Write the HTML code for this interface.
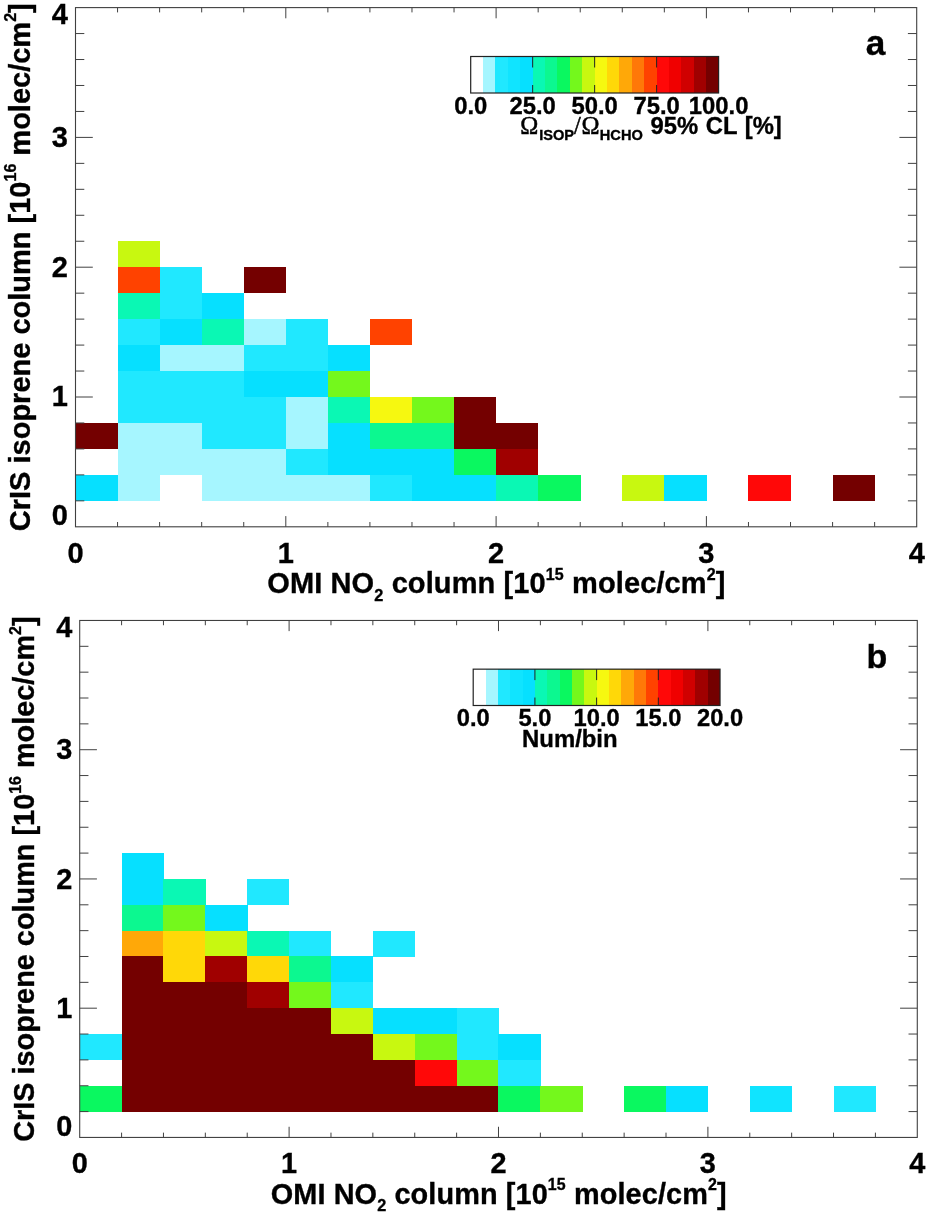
<!DOCTYPE html>
<html lang="en">
<head>
<meta charset="utf-8">
<title>CrIS isoprene column vs OMI NO2 column</title>
<style>
html,body{margin:0;padding:0;background:#fff;}
body{width:936px;height:1213px;overflow:hidden;}
svg{display:block;}
.t{font-family:"Liberation Sans",sans-serif;font-weight:bold;fill:#000;stroke:#000;stroke-width:0.35px;}
.sym{font-family:"Liberation Serif",serif;font-weight:normal;stroke-width:0.5px;}
</style>
</head>
<body>
<svg width="936" height="1213" viewBox="0 0 936 1213">
<rect width="936" height="1213" fill="#fff"/>
<g>
<g shape-rendering="crispEdges">
<rect x="117.56" y="241.24" width="42.36" height="26.26" fill="#c8f810"/>
<rect x="117.56" y="267.2" width="42.36" height="26.26" fill="#ff4200"/>
<rect x="159.62" y="267.2" width="42.36" height="26.26" fill="#20e8ff"/>
<rect x="243.74" y="267.2" width="42.36" height="26.26" fill="#740000"/>
<rect x="117.56" y="293.16" width="42.36" height="26.26" fill="#0af8b4"/>
<rect x="159.62" y="293.16" width="42.36" height="26.26" fill="#20e8ff"/>
<rect x="201.68" y="293.16" width="42.36" height="26.26" fill="#06e0ff"/>
<rect x="117.56" y="319.12" width="42.36" height="26.26" fill="#20e8ff"/>
<rect x="159.62" y="319.12" width="42.36" height="26.26" fill="#06e0ff"/>
<rect x="201.68" y="319.12" width="42.36" height="26.26" fill="#0af8b4"/>
<rect x="243.74" y="319.12" width="42.36" height="26.26" fill="#a6f6ff"/>
<rect x="285.8" y="319.12" width="42.36" height="26.26" fill="#20e8ff"/>
<rect x="369.92" y="319.12" width="42.36" height="26.26" fill="#ff4200"/>
<rect x="117.56" y="345.08" width="42.36" height="26.26" fill="#06e0ff"/>
<rect x="159.62" y="345.08" width="42.36" height="26.26" fill="#a6f6ff"/>
<rect x="201.68" y="345.08" width="42.36" height="26.26" fill="#a6f6ff"/>
<rect x="243.74" y="345.08" width="42.36" height="26.26" fill="#20e8ff"/>
<rect x="285.8" y="345.08" width="42.36" height="26.26" fill="#20e8ff"/>
<rect x="327.86" y="345.08" width="42.36" height="26.26" fill="#06e0ff"/>
<rect x="117.56" y="371.04" width="42.36" height="26.26" fill="#20e8ff"/>
<rect x="159.62" y="371.04" width="42.36" height="26.26" fill="#20e8ff"/>
<rect x="201.68" y="371.04" width="42.36" height="26.26" fill="#20e8ff"/>
<rect x="243.74" y="371.04" width="42.36" height="26.26" fill="#06e0ff"/>
<rect x="285.8" y="371.04" width="42.36" height="26.26" fill="#06e0ff"/>
<rect x="327.86" y="371.04" width="42.36" height="26.26" fill="#74f81c"/>
<rect x="117.56" y="397" width="42.36" height="26.26" fill="#20e8ff"/>
<rect x="159.62" y="397" width="42.36" height="26.26" fill="#20e8ff"/>
<rect x="201.68" y="397" width="42.36" height="26.26" fill="#20e8ff"/>
<rect x="243.74" y="397" width="42.36" height="26.26" fill="#20e8ff"/>
<rect x="285.8" y="397" width="42.36" height="26.26" fill="#a6f6ff"/>
<rect x="327.86" y="397" width="42.36" height="26.26" fill="#0af8b4"/>
<rect x="369.92" y="397" width="42.36" height="26.26" fill="#f6f810"/>
<rect x="411.98" y="397" width="42.36" height="26.26" fill="#74f81c"/>
<rect x="454.04" y="397" width="42.36" height="26.26" fill="#740000"/>
<rect x="75.5" y="422.96" width="42.36" height="26.26" fill="#740000"/>
<rect x="117.56" y="422.96" width="42.36" height="26.26" fill="#a6f6ff"/>
<rect x="159.62" y="422.96" width="42.36" height="26.26" fill="#a6f6ff"/>
<rect x="201.68" y="422.96" width="42.36" height="26.26" fill="#20e8ff"/>
<rect x="243.74" y="422.96" width="42.36" height="26.26" fill="#20e8ff"/>
<rect x="285.8" y="422.96" width="42.36" height="26.26" fill="#a6f6ff"/>
<rect x="327.86" y="422.96" width="42.36" height="26.26" fill="#06e0ff"/>
<rect x="369.92" y="422.96" width="42.36" height="26.26" fill="#0cf890"/>
<rect x="411.98" y="422.96" width="42.36" height="26.26" fill="#0cf890"/>
<rect x="454.04" y="422.96" width="42.36" height="26.26" fill="#740000"/>
<rect x="496.1" y="422.96" width="42.36" height="26.26" fill="#740000"/>
<rect x="117.56" y="448.92" width="42.36" height="26.26" fill="#a6f6ff"/>
<rect x="159.62" y="448.92" width="42.36" height="26.26" fill="#a6f6ff"/>
<rect x="201.68" y="448.92" width="42.36" height="26.26" fill="#a6f6ff"/>
<rect x="243.74" y="448.92" width="42.36" height="26.26" fill="#a6f6ff"/>
<rect x="285.8" y="448.92" width="42.36" height="26.26" fill="#20e8ff"/>
<rect x="327.86" y="448.92" width="42.36" height="26.26" fill="#06e0ff"/>
<rect x="369.92" y="448.92" width="42.36" height="26.26" fill="#06e0ff"/>
<rect x="411.98" y="448.92" width="42.36" height="26.26" fill="#06e0ff"/>
<rect x="454.04" y="448.92" width="42.36" height="26.26" fill="#0af860"/>
<rect x="496.1" y="448.92" width="42.36" height="26.26" fill="#a00000"/>
<rect x="75.5" y="474.88" width="42.36" height="26.26" fill="#06e0ff"/>
<rect x="117.56" y="474.88" width="42.36" height="26.26" fill="#a6f6ff"/>
<rect x="201.68" y="474.88" width="42.36" height="26.26" fill="#a6f6ff"/>
<rect x="243.74" y="474.88" width="42.36" height="26.26" fill="#a6f6ff"/>
<rect x="285.8" y="474.88" width="42.36" height="26.26" fill="#a6f6ff"/>
<rect x="327.86" y="474.88" width="42.36" height="26.26" fill="#a6f6ff"/>
<rect x="369.92" y="474.88" width="42.36" height="26.26" fill="#20e8ff"/>
<rect x="411.98" y="474.88" width="42.36" height="26.26" fill="#06e0ff"/>
<rect x="454.04" y="474.88" width="42.36" height="26.26" fill="#06e0ff"/>
<rect x="496.1" y="474.88" width="42.36" height="26.26" fill="#0af8b4"/>
<rect x="538.16" y="474.88" width="42.36" height="26.26" fill="#0af860"/>
<rect x="622.28" y="474.88" width="42.36" height="26.26" fill="#c8f810"/>
<rect x="664.34" y="474.88" width="42.36" height="26.26" fill="#06e0ff"/>
<rect x="748.46" y="474.88" width="42.36" height="26.26" fill="#ff0808"/>
<rect x="832.58" y="474.88" width="42.36" height="26.26" fill="#740000"/>
</g>
<path d="M117.56 526.8v-4.8M117.56 7.6v4.8M75.5 500.84h8.8M916.7 500.84h-8.8M159.62 526.8v-4.8M159.62 7.6v4.8M75.5 474.88h8.8M916.7 474.88h-8.8M201.68 526.8v-4.8M201.68 7.6v4.8M75.5 448.92h8.8M916.7 448.92h-8.8M243.74 526.8v-4.8M243.74 7.6v4.8M75.5 422.96h8.8M916.7 422.96h-8.8M285.8 526.8v-10.7M285.8 7.6v10.7M75.5 397h17.3M916.7 397h-17.3M327.86 526.8v-4.8M327.86 7.6v4.8M75.5 371.04h8.8M916.7 371.04h-8.8M369.92 526.8v-4.8M369.92 7.6v4.8M75.5 345.08h8.8M916.7 345.08h-8.8M411.98 526.8v-4.8M411.98 7.6v4.8M75.5 319.12h8.8M916.7 319.12h-8.8M454.04 526.8v-4.8M454.04 7.6v4.8M75.5 293.16h8.8M916.7 293.16h-8.8M496.1 526.8v-10.7M496.1 7.6v10.7M75.5 267.2h17.3M916.7 267.2h-17.3M538.16 526.8v-4.8M538.16 7.6v4.8M75.5 241.24h8.8M916.7 241.24h-8.8M580.22 526.8v-4.8M580.22 7.6v4.8M75.5 215.28h8.8M916.7 215.28h-8.8M622.28 526.8v-4.8M622.28 7.6v4.8M75.5 189.32h8.8M916.7 189.32h-8.8M664.34 526.8v-4.8M664.34 7.6v4.8M75.5 163.36h8.8M916.7 163.36h-8.8M706.4 526.8v-10.7M706.4 7.6v10.7M75.5 137.4h17.3M916.7 137.4h-17.3M748.46 526.8v-4.8M748.46 7.6v4.8M75.5 111.44h8.8M916.7 111.44h-8.8M790.52 526.8v-4.8M790.52 7.6v4.8M75.5 85.48h8.8M916.7 85.48h-8.8M832.58 526.8v-4.8M832.58 7.6v4.8M75.5 59.52h8.8M916.7 59.52h-8.8M874.64 526.8v-4.8M874.64 7.6v4.8M75.5 33.56h8.8M916.7 33.56h-8.8" stroke="#404040" stroke-width="1" fill="none"/>
<rect x="75.5" y="7.6" width="841.2" height="519.2" fill="none" stroke="#404040" stroke-width="1.1"/>
<g class="t" font-size="29">
<text x="75.5" y="562.5" text-anchor="middle">0</text>
<text x="285.8" y="562.5" text-anchor="middle">1</text>
<text x="496.1" y="562.5" text-anchor="middle">2</text>
<text x="706.4" y="562.5" text-anchor="middle">3</text>
<text x="916.7" y="562.5" text-anchor="middle">4</text>
<text x="68" y="24" text-anchor="end">4</text>
<text x="68" y="146.8" text-anchor="end">3</text>
<text x="68" y="277" text-anchor="end">2</text>
<text x="68" y="406.4" text-anchor="end">1</text>
<text x="68" y="525.3" text-anchor="end">0</text>
<text x="267.3" y="593.2" letter-spacing="0.11">OMI NO<tspan font-size="16.3" dy="7.5">2</tspan><tspan dy="-7.5"> column [10</tspan><tspan font-size="16" dy="-13.4">15</tspan><tspan dy="13.4"> molec/cm</tspan><tspan font-size="16" dy="-13.4">2</tspan><tspan dy="13.4">]</tspan></text>
<text transform="translate(29.5 531.2) rotate(-90)" x="0" y="0">CrIS isoprene column [10<tspan font-size="16" dy="-13.4">16</tspan><tspan dy="13.4"> molec/cm</tspan><tspan font-size="16" dy="-13.4">2</tspan><tspan dy="13.4">]</tspan></text>
</g>
<text class="t" font-size="35.2" x="865.7" y="55.3">a</text>
<g shape-rendering="crispEdges">
<rect x="470.7" y="56.5" width="12.7" height="36.5" fill="#ffffff"/>
<rect x="483.09" y="56.5" width="12.7" height="36.5" fill="#a6f6ff"/>
<rect x="495.49" y="56.5" width="12.7" height="36.5" fill="#20e8ff"/>
<rect x="507.88" y="56.5" width="12.7" height="36.5" fill="#10e4ff"/>
<rect x="520.28" y="56.5" width="12.7" height="36.5" fill="#06e0ff"/>
<rect x="532.67" y="56.5" width="12.7" height="36.5" fill="#0af8b4"/>
<rect x="545.07" y="56.5" width="12.7" height="36.5" fill="#0cf890"/>
<rect x="557.47" y="56.5" width="12.7" height="36.5" fill="#0af860"/>
<rect x="569.86" y="56.5" width="12.7" height="36.5" fill="#74f81c"/>
<rect x="582.25" y="56.5" width="12.7" height="36.5" fill="#c8f810"/>
<rect x="594.65" y="56.5" width="12.7" height="36.5" fill="#f6f810"/>
<rect x="607.05" y="56.5" width="12.7" height="36.5" fill="#ffd808"/>
<rect x="619.44" y="56.5" width="12.7" height="36.5" fill="#ffa808"/>
<rect x="631.84" y="56.5" width="12.7" height="36.5" fill="#ff7808"/>
<rect x="644.23" y="56.5" width="12.7" height="36.5" fill="#ff4200"/>
<rect x="656.62" y="56.5" width="12.7" height="36.5" fill="#ff0808"/>
<rect x="669.02" y="56.5" width="12.7" height="36.5" fill="#f00000"/>
<rect x="681.41" y="56.5" width="12.7" height="36.5" fill="#d00000"/>
<rect x="693.81" y="56.5" width="12.7" height="36.5" fill="#a00000"/>
<rect x="706.21" y="56.5" width="12.7" height="36.5" fill="#740000"/>
</g>
<path d="M532.67 56.5v11M532.67 93v-8M594.65 56.5v11M594.65 93v-8M656.62 56.5v11M656.62 93v-8" stroke="#222" stroke-width="1" fill="none"/>
<rect x="470.7" y="56.5" width="247.9" height="36.5" fill="none" stroke="#222" stroke-width="1.2"/>
<g class="t" font-size="23.8">
<text x="470.7" y="114" text-anchor="middle">0.0</text>
<text x="532.67" y="114" text-anchor="middle">25.0</text>
<text x="594.65" y="114" text-anchor="middle">50.0</text>
<text x="656.62" y="114" text-anchor="middle">75.0</text>
<text x="718.6" y="114" text-anchor="middle">100.0</text>
<text class="sym" font-size="24.3" x="520.3" y="134">Ω</text><text class="sym" font-size="24.3" x="574" y="133.6">/</text><text class="sym" font-size="24.3" x="581.4" y="134">Ω</text><text y="140.2" font-size="14.6"><tspan x="539.2">ISOP</tspan><tspan x="599.8">HCHO</tspan></text><text x="650.6" y="133.8" word-spacing="1">95% CL [%]</text>
</g>
</g>
<g transform="translate(4.53 612.9) scale(0.9957)">
<g shape-rendering="crispEdges">
<rect x="117.56" y="241.24" width="42.36" height="26.26" fill="#06e0ff"/>
<rect x="117.56" y="267.2" width="42.36" height="26.26" fill="#06e0ff"/>
<rect x="159.62" y="267.2" width="42.36" height="26.26" fill="#0af8b4"/>
<rect x="243.74" y="267.2" width="42.36" height="26.26" fill="#20e8ff"/>
<rect x="117.56" y="293.16" width="42.36" height="26.26" fill="#0cf890"/>
<rect x="159.62" y="293.16" width="42.36" height="26.26" fill="#74f81c"/>
<rect x="201.68" y="293.16" width="42.36" height="26.26" fill="#06e0ff"/>
<rect x="117.56" y="319.12" width="42.36" height="26.26" fill="#ffa808"/>
<rect x="159.62" y="319.12" width="42.36" height="26.26" fill="#ffd808"/>
<rect x="201.68" y="319.12" width="42.36" height="26.26" fill="#c8f810"/>
<rect x="243.74" y="319.12" width="42.36" height="26.26" fill="#0af8b4"/>
<rect x="285.8" y="319.12" width="42.36" height="26.26" fill="#20e8ff"/>
<rect x="369.92" y="319.12" width="42.36" height="26.26" fill="#20e8ff"/>
<rect x="117.56" y="345.08" width="42.36" height="26.26" fill="#740000"/>
<rect x="159.62" y="345.08" width="42.36" height="26.26" fill="#ffd808"/>
<rect x="201.68" y="345.08" width="42.36" height="26.26" fill="#a00000"/>
<rect x="243.74" y="345.08" width="42.36" height="26.26" fill="#ffd808"/>
<rect x="285.8" y="345.08" width="42.36" height="26.26" fill="#0cf890"/>
<rect x="327.86" y="345.08" width="42.36" height="26.26" fill="#06e0ff"/>
<rect x="117.56" y="371.04" width="42.36" height="26.26" fill="#740000"/>
<rect x="159.62" y="371.04" width="42.36" height="26.26" fill="#740000"/>
<rect x="201.68" y="371.04" width="42.36" height="26.26" fill="#740000"/>
<rect x="243.74" y="371.04" width="42.36" height="26.26" fill="#a00000"/>
<rect x="285.8" y="371.04" width="42.36" height="26.26" fill="#74f81c"/>
<rect x="327.86" y="371.04" width="42.36" height="26.26" fill="#20e8ff"/>
<rect x="117.56" y="397" width="42.36" height="26.26" fill="#740000"/>
<rect x="159.62" y="397" width="42.36" height="26.26" fill="#740000"/>
<rect x="201.68" y="397" width="42.36" height="26.26" fill="#740000"/>
<rect x="243.74" y="397" width="42.36" height="26.26" fill="#740000"/>
<rect x="285.8" y="397" width="42.36" height="26.26" fill="#740000"/>
<rect x="327.86" y="397" width="42.36" height="26.26" fill="#c8f810"/>
<rect x="369.92" y="397" width="42.36" height="26.26" fill="#06e0ff"/>
<rect x="411.98" y="397" width="42.36" height="26.26" fill="#06e0ff"/>
<rect x="454.04" y="397" width="42.36" height="26.26" fill="#20e8ff"/>
<rect x="75.5" y="422.96" width="42.36" height="26.26" fill="#20e8ff"/>
<rect x="117.56" y="422.96" width="42.36" height="26.26" fill="#740000"/>
<rect x="159.62" y="422.96" width="42.36" height="26.26" fill="#740000"/>
<rect x="201.68" y="422.96" width="42.36" height="26.26" fill="#740000"/>
<rect x="243.74" y="422.96" width="42.36" height="26.26" fill="#740000"/>
<rect x="285.8" y="422.96" width="42.36" height="26.26" fill="#740000"/>
<rect x="327.86" y="422.96" width="42.36" height="26.26" fill="#740000"/>
<rect x="369.92" y="422.96" width="42.36" height="26.26" fill="#c8f810"/>
<rect x="411.98" y="422.96" width="42.36" height="26.26" fill="#74f81c"/>
<rect x="454.04" y="422.96" width="42.36" height="26.26" fill="#20e8ff"/>
<rect x="496.1" y="422.96" width="42.36" height="26.26" fill="#06e0ff"/>
<rect x="117.56" y="448.92" width="42.36" height="26.26" fill="#740000"/>
<rect x="159.62" y="448.92" width="42.36" height="26.26" fill="#740000"/>
<rect x="201.68" y="448.92" width="42.36" height="26.26" fill="#740000"/>
<rect x="243.74" y="448.92" width="42.36" height="26.26" fill="#740000"/>
<rect x="285.8" y="448.92" width="42.36" height="26.26" fill="#740000"/>
<rect x="327.86" y="448.92" width="42.36" height="26.26" fill="#740000"/>
<rect x="369.92" y="448.92" width="42.36" height="26.26" fill="#740000"/>
<rect x="411.98" y="448.92" width="42.36" height="26.26" fill="#ff0808"/>
<rect x="454.04" y="448.92" width="42.36" height="26.26" fill="#74f81c"/>
<rect x="496.1" y="448.92" width="42.36" height="26.26" fill="#20e8ff"/>
<rect x="75.5" y="474.88" width="42.36" height="26.26" fill="#0af860"/>
<rect x="117.56" y="474.88" width="42.36" height="26.26" fill="#740000"/>
<rect x="159.62" y="474.88" width="42.36" height="26.26" fill="#740000"/>
<rect x="201.68" y="474.88" width="42.36" height="26.26" fill="#740000"/>
<rect x="243.74" y="474.88" width="42.36" height="26.26" fill="#740000"/>
<rect x="285.8" y="474.88" width="42.36" height="26.26" fill="#740000"/>
<rect x="327.86" y="474.88" width="42.36" height="26.26" fill="#740000"/>
<rect x="369.92" y="474.88" width="42.36" height="26.26" fill="#740000"/>
<rect x="411.98" y="474.88" width="42.36" height="26.26" fill="#740000"/>
<rect x="454.04" y="474.88" width="42.36" height="26.26" fill="#740000"/>
<rect x="496.1" y="474.88" width="42.36" height="26.26" fill="#0af860"/>
<rect x="538.16" y="474.88" width="42.36" height="26.26" fill="#74f81c"/>
<rect x="622.28" y="474.88" width="42.36" height="26.26" fill="#0af860"/>
<rect x="664.34" y="474.88" width="42.36" height="26.26" fill="#06e0ff"/>
<rect x="748.46" y="474.88" width="42.36" height="26.26" fill="#10e4ff"/>
<rect x="832.58" y="474.88" width="42.36" height="26.26" fill="#20e8ff"/>
</g>
<path d="M117.56 526.8v-4.8M117.56 7.6v4.8M75.5 500.84h8.8M916.7 500.84h-8.8M159.62 526.8v-4.8M159.62 7.6v4.8M75.5 474.88h8.8M916.7 474.88h-8.8M201.68 526.8v-4.8M201.68 7.6v4.8M75.5 448.92h8.8M916.7 448.92h-8.8M243.74 526.8v-4.8M243.74 7.6v4.8M75.5 422.96h8.8M916.7 422.96h-8.8M285.8 526.8v-10.7M285.8 7.6v10.7M75.5 397h17.3M916.7 397h-17.3M327.86 526.8v-4.8M327.86 7.6v4.8M75.5 371.04h8.8M916.7 371.04h-8.8M369.92 526.8v-4.8M369.92 7.6v4.8M75.5 345.08h8.8M916.7 345.08h-8.8M411.98 526.8v-4.8M411.98 7.6v4.8M75.5 319.12h8.8M916.7 319.12h-8.8M454.04 526.8v-4.8M454.04 7.6v4.8M75.5 293.16h8.8M916.7 293.16h-8.8M496.1 526.8v-10.7M496.1 7.6v10.7M75.5 267.2h17.3M916.7 267.2h-17.3M538.16 526.8v-4.8M538.16 7.6v4.8M75.5 241.24h8.8M916.7 241.24h-8.8M580.22 526.8v-4.8M580.22 7.6v4.8M75.5 215.28h8.8M916.7 215.28h-8.8M622.28 526.8v-4.8M622.28 7.6v4.8M75.5 189.32h8.8M916.7 189.32h-8.8M664.34 526.8v-4.8M664.34 7.6v4.8M75.5 163.36h8.8M916.7 163.36h-8.8M706.4 526.8v-10.7M706.4 7.6v10.7M75.5 137.4h17.3M916.7 137.4h-17.3M748.46 526.8v-4.8M748.46 7.6v4.8M75.5 111.44h8.8M916.7 111.44h-8.8M790.52 526.8v-4.8M790.52 7.6v4.8M75.5 85.48h8.8M916.7 85.48h-8.8M832.58 526.8v-4.8M832.58 7.6v4.8M75.5 59.52h8.8M916.7 59.52h-8.8M874.64 526.8v-4.8M874.64 7.6v4.8M75.5 33.56h8.8M916.7 33.56h-8.8" stroke="#404040" stroke-width="1" fill="none"/>
<rect x="75.5" y="7.6" width="841.2" height="519.2" fill="none" stroke="#404040" stroke-width="1.1"/>
<g class="t" font-size="29">
<text x="75.5" y="562.5" text-anchor="middle">0</text>
<text x="285.8" y="562.5" text-anchor="middle">1</text>
<text x="496.1" y="562.5" text-anchor="middle">2</text>
<text x="706.4" y="562.5" text-anchor="middle">3</text>
<text x="916.7" y="562.5" text-anchor="middle">4</text>
<text x="68" y="24" text-anchor="end">4</text>
<text x="68" y="146.8" text-anchor="end">3</text>
<text x="68" y="277" text-anchor="end">2</text>
<text x="68" y="406.4" text-anchor="end">1</text>
<text x="68" y="525.3" text-anchor="end">0</text>
<text x="267.3" y="593.2" letter-spacing="0.11">OMI NO<tspan font-size="16.3" dy="7.5">2</tspan><tspan dy="-7.5"> column [10</tspan><tspan font-size="16" dy="-13.4">15</tspan><tspan dy="13.4"> molec/cm</tspan><tspan font-size="16" dy="-13.4">2</tspan><tspan dy="13.4">]</tspan></text>
<text transform="translate(29.5 531.2) rotate(-90)" x="0" y="0">CrIS isoprene column [10<tspan font-size="16" dy="-13.4">16</tspan><tspan dy="13.4"> molec/cm</tspan><tspan font-size="16" dy="-13.4">2</tspan><tspan dy="13.4">]</tspan></text>
</g>
<text class="t" font-size="34.2" x="865.7" y="55.3">b</text>
<g shape-rendering="crispEdges">
<rect x="470.7" y="56.5" width="12.7" height="36.5" fill="#ffffff"/>
<rect x="483.09" y="56.5" width="12.7" height="36.5" fill="#a6f6ff"/>
<rect x="495.49" y="56.5" width="12.7" height="36.5" fill="#20e8ff"/>
<rect x="507.88" y="56.5" width="12.7" height="36.5" fill="#10e4ff"/>
<rect x="520.28" y="56.5" width="12.7" height="36.5" fill="#06e0ff"/>
<rect x="532.67" y="56.5" width="12.7" height="36.5" fill="#0af8b4"/>
<rect x="545.07" y="56.5" width="12.7" height="36.5" fill="#0cf890"/>
<rect x="557.47" y="56.5" width="12.7" height="36.5" fill="#0af860"/>
<rect x="569.86" y="56.5" width="12.7" height="36.5" fill="#74f81c"/>
<rect x="582.25" y="56.5" width="12.7" height="36.5" fill="#c8f810"/>
<rect x="594.65" y="56.5" width="12.7" height="36.5" fill="#f6f810"/>
<rect x="607.05" y="56.5" width="12.7" height="36.5" fill="#ffd808"/>
<rect x="619.44" y="56.5" width="12.7" height="36.5" fill="#ffa808"/>
<rect x="631.84" y="56.5" width="12.7" height="36.5" fill="#ff7808"/>
<rect x="644.23" y="56.5" width="12.7" height="36.5" fill="#ff4200"/>
<rect x="656.62" y="56.5" width="12.7" height="36.5" fill="#ff0808"/>
<rect x="669.02" y="56.5" width="12.7" height="36.5" fill="#f00000"/>
<rect x="681.41" y="56.5" width="12.7" height="36.5" fill="#d00000"/>
<rect x="693.81" y="56.5" width="12.7" height="36.5" fill="#a00000"/>
<rect x="706.21" y="56.5" width="12.7" height="36.5" fill="#740000"/>
</g>
<path d="M532.67 56.5v11M532.67 93v-8M594.65 56.5v11M594.65 93v-8M656.62 56.5v11M656.62 93v-8" stroke="#222" stroke-width="1" fill="none"/>
<rect x="470.7" y="56.5" width="247.9" height="36.5" fill="none" stroke="#222" stroke-width="1.2"/>
<g class="t" font-size="23.8">
<text x="470.7" y="114" text-anchor="middle">0.0</text>
<text x="532.67" y="114" text-anchor="middle">5.0</text>
<text x="594.65" y="114" text-anchor="middle">10.0</text>
<text x="656.62" y="114" text-anchor="middle">15.0</text>
<text x="718.6" y="114" text-anchor="middle">20.0</text>
<text x="519.8" y="134.4" font-size="24">Num/bin</text>
</g>
</g>
</svg>
</body>
</html>
